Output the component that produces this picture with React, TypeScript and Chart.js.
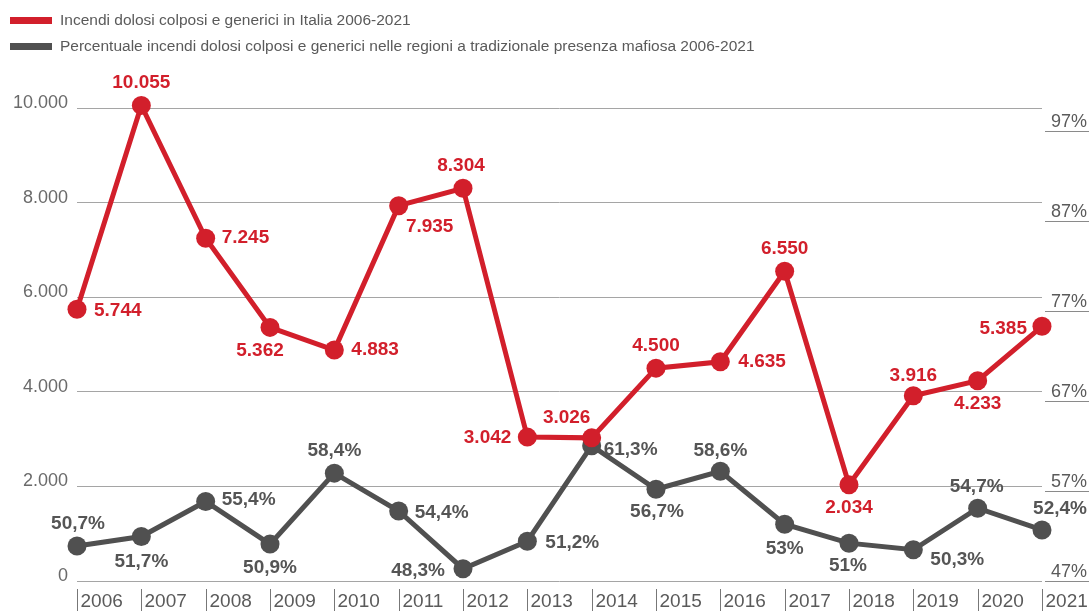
import React, { useEffect, useRef } from "react";
import { Chart, registerables } from "chart.js";

Chart.register(...registerables);

const years = ["2006","2007","2008","2009","2010","2011","2012","2013","2014","2015","2016","2017","2018","2019","2020","2021"];
const incendiItalia = [5744, 10055, 7245, 5362, 4883, 7935, 8304, 3042, 3026, 4500, 4635, 6550, 2034, 3916, 4233, 5385];
const percentualeMafiosa = [50.7, 51.7, 55.4, 50.9, 58.4, 54.4, 48.3, 51.2, 61.3, 56.7, 58.6, 53, 51, 50.3, 54.7, 52.4];
const leftTicks = [0, 2000, 4000, 6000, 8000, 10000];
const rightTicks = [47, 57, 67, 77, 87, 97];
const legendLabels = [
  "Incendi dolosi colposi e generici in Italia 2006-2021",
  "Percentuale incendi dolosi colposi e generici nelle regioni a tradizionale presenza mafiosa 2006-2021",
];

const RED = "#d21f2b";
const GRAY = "#505050";
const TEXT = "#5a5a5a";
const FONT = "'Liberation Sans', Arial, Helvetica, sans-serif";

type Place = [number, number, CanvasTextAlign];
const redPlace: Place[] = [
  [17, 1, "left"], [0, -23, "center"], [16, -1, "left"], [-10, 23, "center"],
  [17, 0, "left"], [31, 21, "center"], [-2, -22, "center"], [-16, 1, "right"],
  [-25, -20, "center"], [0, -22, "center"], [18, 0, "left"], [0, -22, "center"],
  [0, 23, "center"], [0, -20, "center"], [0, 23, "center"], [-15, 2, "right"],
];
const grayPlace: Place[] = [
  [1, -22, "center"], [0, 25, "center"], [16, -2, "left"], [0, 24, "center"],
  [0, -22, "center"], [16, 2, "left"], [-18, 2, "right"], [18, 1, "left"],
  [12, 4, "left"], [1, 23, "center"], [0, -20, "center"], [0, 25, "center"],
  [-1, 23, "center"], [17, 10, "left"], [-1, -21, "center"], [18, -21, "center"],
];

const fmtThousands = (n: number) => String(n).replace(/\B(?=(\d{3})+(?!\d))/g, ".");
const fmtPct = (v: number) => String(v).replace(".", ",") + "%";

const overlayPlugin = {
  id: "overlay",
  afterDatasetsDraw(chart: any) {
    const ctx = chart.ctx as CanvasRenderingContext2D;
    const area = chart.chartArea;
    const xs = chart.scales.x;
    const y2 = chart.scales.y2;
    ctx.save();
    // data labels
    ctx.font = `bold 19px ${FONT}`;
    ctx.textBaseline = "middle";
    const sets: [number, (v: number) => string, Place[], string][] = [
      [0, fmtThousands, redPlace, RED],
      [1, fmtPct, grayPlace, "#555555"],
    ];
    sets.forEach(([di, fmt, places, color]) => {
      const meta = chart.getDatasetMeta(di);
      const data = chart.data.datasets[di].data as number[];
      ctx.fillStyle = color;
      meta.data.forEach((pt: any, i: number) => {
        const [dx, dy, align] = places[i];
        ctx.textAlign = align;
        ctx.fillText(fmt(data[i]), pt.x + dx, pt.y + dy);
      });
    });
    // x labels with bars
    ctx.font = `19px ${FONT}`;
    ctx.fillStyle = TEXT;
    ctx.strokeStyle = "#777";
    ctx.lineWidth = 1;
    ctx.textAlign = "left";
    years.forEach((yr, i) => {
      const x = Math.round(xs.getPixelForValue(i)) + 0.5;
      ctx.beginPath();
      ctx.moveTo(x, area.bottom + 8);
      ctx.lineTo(x, area.bottom + 30);
      ctx.stroke();
      ctx.fillText(yr, x + 3, area.bottom + 21);
    });
    // right axis labels, underlined
    ctx.font = `18px ${FONT}`;
    ctx.textAlign = "right";
    ctx.strokeStyle = "#8a8a8a";
    rightTicks.forEach((v) => {
      const py = y2.getPixelForValue(v);
      const off = 14 - (23 * (97 - v)) / 50;
      const ty = py + off;
      ctx.fillText(`${v}%`, 1087, ty);
      ctx.beginPath();
      ctx.moveTo(1045, Math.round(ty + 9) + 0.5);
      ctx.lineTo(1089, Math.round(ty + 9) + 0.5);
      ctx.stroke();
    });
    ctx.restore();
  },
};

export default function App() {
  const canvasRef = useRef<HTMLCanvasElement | null>(null);

  useEffect(() => {
    document.body.style.margin = "0";
    const canvas = canvasRef.current;
    if (!canvas) return;
    const chart = new Chart(canvas, {
      type: "line",
      data: {
        labels: years,
        datasets: [
          {
            label: legendLabels[0],
            data: incendiItalia,
            yAxisID: "y",
            borderColor: RED,
            backgroundColor: RED,
            pointBackgroundColor: RED,
            pointBorderColor: RED,
            borderWidth: 5,
            pointRadius: 9.5,
            pointBorderWidth: 0,
            tension: 0,
            clip: false as any,
          },
          {
            label: legendLabels[1],
            data: percentualeMafiosa,
            yAxisID: "y2",
            borderColor: GRAY,
            backgroundColor: GRAY,
            pointBackgroundColor: GRAY,
            pointBorderColor: GRAY,
            borderWidth: 5,
            pointRadius: 9.5,
            pointBorderWidth: 0,
            tension: 0,
            clip: false as any,
          },
        ],
      },
      options: {
        responsive: false,
        animation: false,
        layout: { padding: { top: 108, right: 47, bottom: 30, left: 0 } },
        plugins: {
          legend: { display: false },
          tooltip: { enabled: false },
        },
        scales: {
          x: { display: false, offset: false },
          y: {
            position: "left",
            min: 0,
            max: 10000,
            afterFit: (scale: any) => { scale.width = 77; },
            ticks: {
              stepSize: 2000,
              padding: 9,
              labelOffset: -5,
              color: "#6a6a6a",
              font: { family: FONT, size: 18 },
              callback: (v: any) => (leftTicks.includes(Number(v)) ? fmtThousands(Number(v)) : ""),
            },
            grid: { color: "#a5a5a5", lineWidth: 1, drawTicks: false },
            border: { display: false },
          },
          y2: {
            display: false,
            position: "right",
            min: 47,
            max: 97,
          },
        },
      },
      plugins: [overlayPlugin],
    });
    return () => chart.destroy();
  }, []);

  const legendText: React.CSSProperties = {
    position: "absolute",
    left: 60,
    fontFamily: FONT,
    fontSize: 15.5,
    color: TEXT,
    whiteSpace: "nowrap",
    lineHeight: "18px",
  };

  return (
    <div style={{ position: "relative", width: 1089, height: 611, background: "#fff", overflow: "hidden" }}>
      <canvas ref={canvasRef} width={1089} height={611} style={{ position: "absolute", left: 0, top: 0, width: 1089, height: 611 }} />
      <div style={{ position: "absolute", left: 10, top: 17, width: 42, height: 7, background: RED }} />
      <div style={{ ...legendText, top: 11 }}>{legendLabels[0]}</div>
      <div style={{ position: "absolute", left: 10, top: 43, width: 42, height: 7, background: GRAY }} />
      <div style={{ ...legendText, top: 37 }}>{legendLabels[1]}</div>
    </div>
  );
}
